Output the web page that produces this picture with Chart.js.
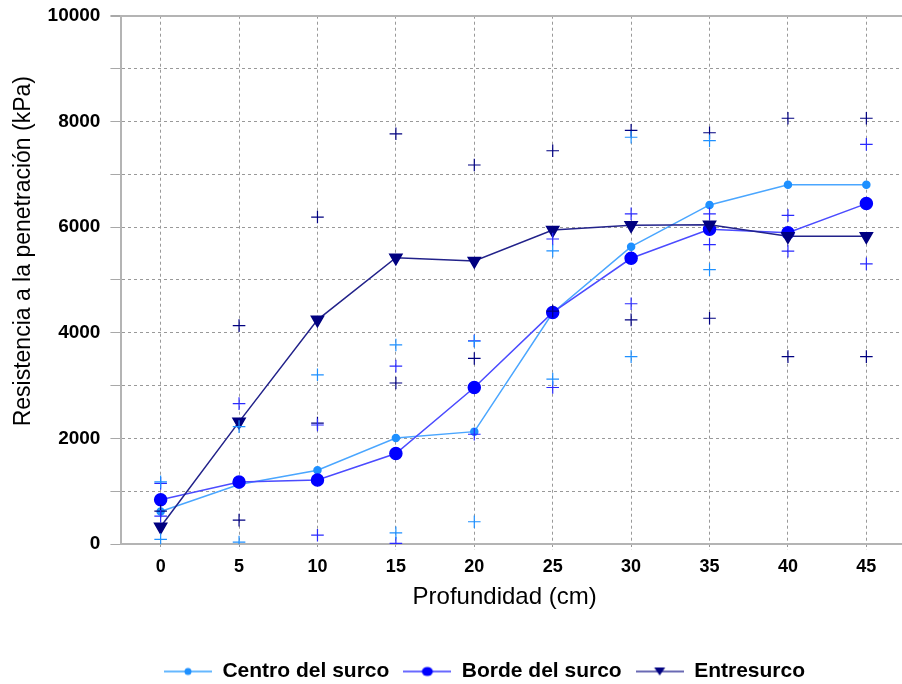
<!DOCTYPE html>
<html>
<head>
<meta charset="utf-8">
<script src="https://cdn.jsdelivr.net/npm/chart.js@4.4.1/dist/chart.umd.min.js"></script>
<style>
  html, body { margin: 0; padding: 0; overflow: hidden; background: #fff; }
</style>
</head>
<body>
<canvas id="myChart" width="963" height="700"></canvas>
<script>
// depth (cm) on x, penetration resistance (kPa) on y
var depths = [0, 5, 10, 15, 20, 25, 30, 35, 40, 45];
var xTicks = [0, 5, 10, 15, 20, 25, 30, 35, 40, 45];
var legendNames = ['Centro del surco', 'Borde del surco', 'Entresurco'];

// means
var centro     = [620, 1130, 1400, 2010, 2130, 4380, 5630, 6420, 6800, 6800];
var borde      = [840, 1175, 1215, 1715, 2965, 4385, 5410, 5960, 5895, 6445];
var entresurco = [330, 2315, 4245, 5420, 5360, 5945, 6035, 6045, 5825, 5825];

// the "+" marks above / below each mean (null = not visible)
var centroHi = [1180, 2225, 3205, 3770, 3840, 5550, 7700, 7635, null, null];
var centroLo = [90, 40, null, 215, 425, 3125, 3550, 5195, null, null];
var bordeHi  = [1150, 2660, 2255, 3370, 3850, 5775, 6250, 6250, 6220, 7565];
var bordeLo  = [530, null, 170, 15, 2080, 2965, 4550, 5670, 5545, 5305];
var entreHi  = [625, 4135, 6190, 7765, 7175, 7445, 7830, 7785, 8060, 8060];
var entreLo  = [null, 455, 2290, 3050, 3515, 4410, 4245, 4275, 3550, 3550];

Chart.defaults.font.family = "'Liberation Sans', Arial, sans-serif";
Chart.defaults.color = '#000';

function pts(vals) {
    return depths.map(function(d, i) { return {x: d, y: vals[i]}; });
}
function marks(hi, lo) {
    return pts(hi).concat(pts(lo)).filter(function(p) { return p.y !== null; });
}

// small line + marker pictures for the legend
function legendIcon(lineColor, markColor, kind) {
    var c = document.createElement('canvas');
    c.width = 48; c.height = 16;
    var g = c.getContext('2d');
    g.strokeStyle = lineColor;
    g.lineWidth = 2;
    g.beginPath(); g.moveTo(0, 8); g.lineTo(48, 8); g.stroke();
    g.fillStyle = markColor;
    g.beginPath();
    if (kind === 'dot') {
        g.arc(24, 8, 3.5, 0, Math.PI * 2);
    } else if (kind === 'circle') {
        g.ellipse(24, 8, 5.5, 4.5, 0, 0, Math.PI * 2);
    } else {
        g.moveTo(18.5, 4); g.lineTo(29.5, 4); g.lineTo(24, 12); g.closePath();
    }
    g.fill();
    return c;
}
var legendIcons = [
    legendIcon('#66b8ff', '#1e90ff', 'dot'),
    legendIcon('#6a6aff', '#0000ff', 'circle'),
    legendIcon('#6a6ab4', '#000080', 'tri')
];

var canvas = document.getElementById('myChart');
var ctx = canvas.getContext('2d');

var myChart = new Chart(ctx, {
    type: 'line',
    data: {
        datasets: [{
            label: legendNames[0],
            data: pts(centro),
            borderColor: '#4aa6ff',
            backgroundColor: '#1e90ff',
            pointBackgroundColor: '#1e90ff',
            pointBorderColor: '#1e90ff',
            pointRadius: 3.5,
            borderWidth: 1.5,
            order: 2
        }, {
            label: legendNames[1],
            data: pts(borde),
            borderColor: '#4b4bff',
            backgroundColor: '#0000ff',
            pointBackgroundColor: '#0000ff',
            pointBorderColor: '#0000ff',
            pointRadius: 6,
            borderWidth: 1.5,
            order: 1
        }, {
            label: legendNames[2],
            data: pts(entresurco),
            borderColor: '#22228a',
            backgroundColor: '#000080',
            pointBackgroundColor: '#000080',
            pointBorderColor: '#000080',
            pointStyle: 'triangle',
            pointRotation: 180,
            pointRadius: 7,
            borderWidth: 1.5,
            order: 0
        }, {
            type: 'scatter',
            label: 'centro +',
            data: marks(centroHi, centroLo),
            pointStyle: 'cross',
            pointRadius: 6.3,
            pointBorderWidth: 1.2,
            pointBorderColor: '#1e90ff',
            showLine: false,
            order: -1
        }, {
            type: 'scatter',
            label: 'borde +',
            data: marks(bordeHi, bordeLo),
            pointStyle: 'cross',
            pointRadius: 6.3,
            pointBorderWidth: 1.2,
            pointBorderColor: '#2a2aff',
            showLine: false,
            order: -1
        }, {
            type: 'scatter',
            label: 'entre +',
            data: marks(entreHi, entreLo),
            pointStyle: 'cross',
            pointRadius: 6.3,
            pointBorderWidth: 1.2,
            pointBorderColor: '#000080',
            showLine: false,
            order: -1
        }]
    },
    options: {
        responsive: false,
        animation: false,
        layout: {
            padding: {left: 6, right: 0, top: 12, bottom: 8}
        },
        plugins: {
            tooltip: {enabled: false},
            legend: {
                position: 'bottom',
                labels: {
                    usePointStyle: true,
                    pointStyleWidth: 48,
                    padding: 14,
                    color: '#000',
                    font: {size: 21, weight: 'bold'},
                    generateLabels: function(chart) {
                        return legendNames.map(function(name, i) {
                            return {
                                text: name,
                                pointStyle: legendIcons[i],
                                fillStyle: 'transparent',
                                strokeStyle: 'transparent',
                                lineWidth: 0,
                                hidden: false,
                                datasetIndex: i
                            };
                        });
                    }
                }
            }
        },
        scales: {
            x: {
                type: 'linear',
                min: -2.5,
                max: 50.62,
                afterBuildTicks: function(scale) {
                    scale.ticks = xTicks.map(function(v) { return {value: v}; });
                },
                ticks: {
                    padding: 7,
                    font: {size: 18, weight: 'bold'},
                    color: '#000'
                },
                grid: {
                    color: '#999',
                    lineWidth: 1,
                    tickLength: 5,
                    tickBorderDash: [2, 2]
                },
                border: {
                    color: '#b4b4b4',
                    width: 2,
                    dash: [3, 3]
                },
                title: {
                    display: true,
                    text: 'Profundidad (cm)          ',
                    font: {size: 24, lineHeight: 1.05},
                    color: '#000',
                    padding: {top: 0, bottom: 37}
                }
            },
            y: {
                min: 0,
                max: 10000,
                ticks: {
                    stepSize: 1000,
                    padding: 10,
                    font: {size: 19, weight: 'bold', lineHeight: 0.6},
                    color: '#000',
                    callback: function(v) { return v % 2000 === 0 ? v : ''; }
                },
                grid: {
                    color: function(c) { return c.tick && c.tick.value === 10000 ? '#b4b4b4' : '#999'; },
                    lineWidth: function(c) { return c.tick && c.tick.value === 10000 ? 2 : 1; },
                    tickColor: '#a8a8a8',
                    tickLength: 11,
                    tickBorderDash: []
                },
                border: {
                    color: '#b4b4b4',
                    width: 2,
                    dash: function(c) { return c.tick && c.tick.value === 10000 ? [] : [3, 3]; }
                },
                title: {
                    display: true,
                    text: '         Resistencia a la penetración (kPa)',
                    font: {size: 23},
                    color: '#000',
                    padding: {top: 4, bottom: 0}
                }
            }
        }
    }
});
</script>
</body>
</html>
